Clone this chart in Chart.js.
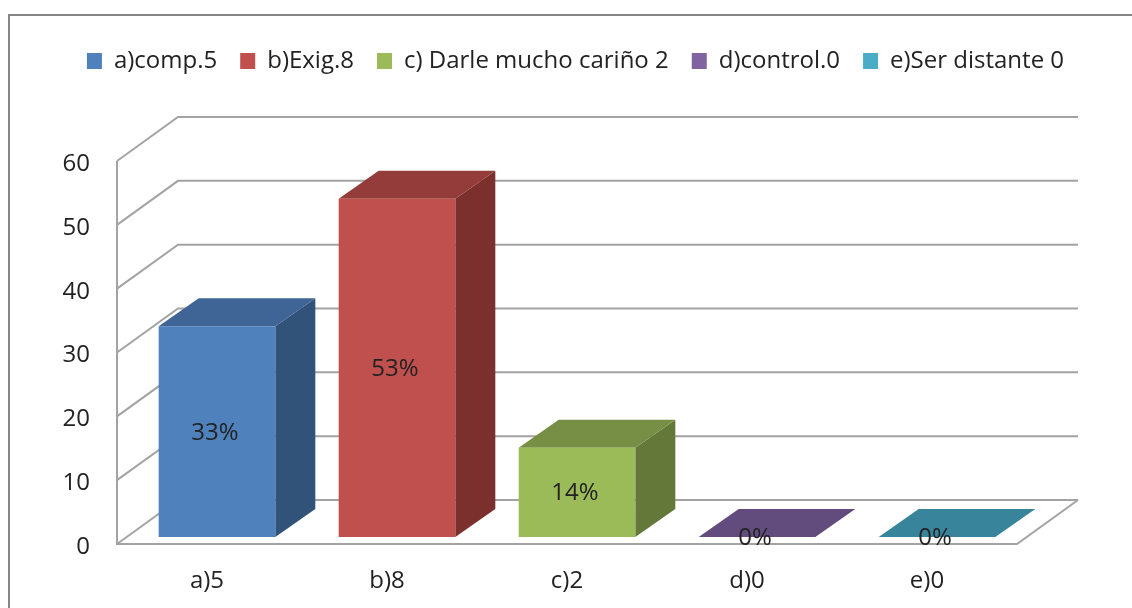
<!DOCTYPE html>
<html>
<head>
<meta charset="utf-8">
<style>
  html, body { margin: 0; padding: 0; background: #fff; overflow: hidden; }
  #wrap { position: relative; width: 1132px; height: 608px; }
  #marco { position: absolute; left: 8px; top: 14px; right: 0; bottom: 0; border-left: 2px solid #868686; border-top: 2px solid #868686; }
  canvas { position: absolute; left: 0; top: 0; }
</style>
</head>
<body>
<div id="wrap">
  <div id="marco"></div>
  <canvas id="grafico" width="1132" height="608"></canvas>
</div>
<script src="https://cdn.jsdelivr.net/npm/chart.js@4"></script>
<script>
var categorias = ['a)5', 'b)8', 'c)2', 'd)0', 'e)0'];
var ticksY = [0, 10, 20, 30, 40, 50, 60];

var serieA = [33, null, null, null, null];
var serieB = [null, 53, null, null, null];
var serieC = [null, null, 14, null, null];
var serieD = [null, null, null, 0, null];
var serieE = [null, null, null, null, 0];

var nombres = ['a)comp.5', 'b)Exig.8', 'c) Darle mucho cariño 2', 'd)control.0', 'e)Ser distante 0'];
var colores = ['#4F81BD', '#C0504D', '#9BBB59', '#8064A2', '#4BACC6'];
var coloresArriba = ['#3E6596', '#933C3A', '#778F44', '#624C7E', '#38849A'];
var coloresLado = ['#315279', '#7C302E', '#64783A', '#503F66', '#2E6C7E'];

var fuente = '"Open Sans", sans-serif';
var colorTexto = '#222222';
var colorRejilla = '#A3A3A3';

// desplazamiento de la profundidad 3D
var fondoX = 61, fondoY = 44;
var barraX = 40, barraY = 28;
var ejeDx = 10, ejeDy = 7;

var efecto3d = {
  id: 'efecto3d',
  beforeInit: function (chart) {
    var fit = chart.legend.fit;
    chart.legend.fit = function () {
      fit.call(this);
      this.height = 154;
    };
  },
  afterLayout: function (chart) {
    chart.legend.left += 62;
    chart.legend.right += 62;
    chart.legend.top += 26;
  },
  beforeDatasetsDraw: function (chart) {
    var ctx = chart.ctx;
    var x = chart.scales.x, y = chart.scales.y;
    var izq = x.left - ejeDx, der = x.right - ejeDx;

    ctx.save();
    ctx.strokeStyle = colorRejilla;
    ctx.lineWidth = 2;
    ticksY.forEach(function (v) {
      var py = y.getPixelForValue(v) + ejeDy;
      ctx.beginPath();
      ctx.moveTo(izq, py);
      ctx.lineTo(izq + fondoX, py - fondoY);
      ctx.lineTo(der + fondoX, py - fondoY);
      ctx.stroke();
    });
    // pared izquierda y suelo
    var y0 = y.getPixelForValue(0) + ejeDy;
    ctx.beginPath();
    ctx.moveTo(izq, y.getPixelForValue(60) + ejeDy);
    ctx.lineTo(izq, y0);
    ctx.lineTo(der, y0);
    ctx.lineTo(der + fondoX, y0 - fondoY);
    ctx.stroke();

    // caras de arriba y del lado de cada barra
    chart.data.datasets.forEach(function (ds, i) {
      chart.getDatasetMeta(i).data.forEach(function (bar, j) {
        if (ds.data[j] === null) return;
        var l = bar.x - bar.width / 2, r = bar.x + bar.width / 2;
        ctx.fillStyle = coloresLado[i];
        ctx.beginPath();
        ctx.moveTo(r, bar.y);
        ctx.lineTo(r + barraX, bar.y - barraY);
        ctx.lineTo(r + barraX, bar.base - barraY);
        ctx.lineTo(r, bar.base);
        ctx.closePath();
        ctx.fill();
        ctx.fillStyle = coloresArriba[i];
        ctx.beginPath();
        ctx.moveTo(l, bar.y);
        ctx.lineTo(l + barraX, bar.y - barraY);
        ctx.lineTo(r + barraX, bar.y - barraY);
        ctx.lineTo(r, bar.y);
        ctx.closePath();
        ctx.fill();
      });
    });
    ctx.restore();
  },
  afterDatasetsDraw: function (chart) {
    var ctx = chart.ctx;
    ctx.save();
    ctx.font = '24px ' + fuente;
    ctx.fillStyle = colorTexto;
    ctx.textAlign = 'center';
    ctx.textBaseline = 'middle';
    chart.data.datasets.forEach(function (ds, i) {
      chart.getDatasetMeta(i).data.forEach(function (bar, j) {
        if (ds.data[j] === null) return;
        ctx.fillText(ds.data[j] + '%', bar.x - 2, (bar.y + bar.base) / 2 + 1);
      });
    });
    ctx.restore();
  }
};

new Chart(document.getElementById('grafico'), {
  type: 'bar',
  data: {
    labels: categorias,
    datasets: [serieA, serieB, serieC, serieD, serieE].map(function (serie, i) {
      return { label: nombres[i], data: serie, backgroundColor: colores[i], borderWidth: 0, grouped: false, barPercentage: 0.648, categoryPercentage: 1 };
    })
  },
  options: {
    responsive: false,
    animation: false,
    layout: { padding: { left: 0, right: 105, top: 0, bottom: 0 } },
    plugins: {
      tooltip: { enabled: false },
      legend: {
        position: 'top',
        labels: { boxWidth: 15, boxHeight: 16, padding: 23, color: colorTexto, font: { family: fuente, size: 24 } }
      }
    },
    scales: {
      x: {
        grid: { display: false, drawTicks: false },
        border: { display: false },
        ticks: { color: colorTexto, font: { family: fuente, size: 24 }, padding: 30, labelOffset: -ejeDx, maxRotation: 0, autoSkip: false },
        afterFit: function (s) { s.height = 71; }
      },
      y: {
        min: 0,
        max: 60,
        grid: { display: false, drawTicks: false },
        border: { display: false },
        afterBuildTicks: function (s) { s.ticks = ticksY.map(function (v) { return { value: v }; }); },
        ticks: { color: colorTexto, font: { family: fuente, size: 24 }, padding: 37, labelOffset: 10 },
        afterFit: function (s) { s.width = 127; }
      }
    }
  },
  plugins: [efecto3d]
});
</script>
</body>
</html>
